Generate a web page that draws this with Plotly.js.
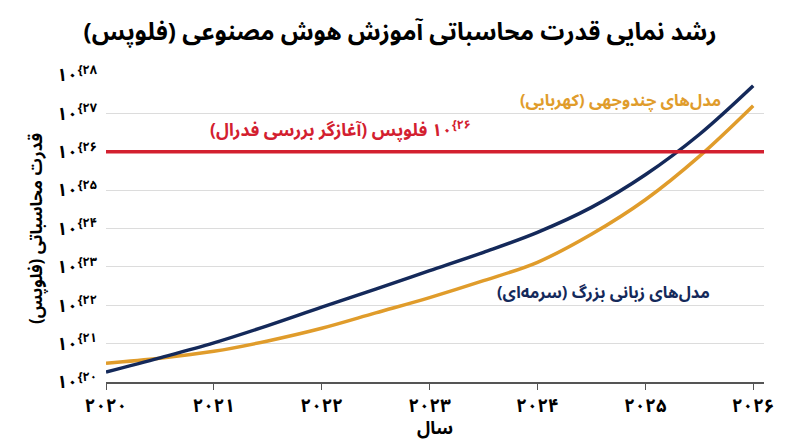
<!DOCTYPE html>
<html>
<head>
<meta charset="utf-8">
<script src="https://cdn.plot.ly/plotly-3.0.1.min.js"></script>
<style>
  html, body { margin: 0; padding: 0; background: #fff; }
  #chart { width: 800px; height: 447px; }
</style>
</head>
<body>
<div id="chart"></div>
<script>
// years (x) and log10 of training compute in FLOPs (y)
const years = [2020, 2020.5, 2021, 2021.5, 2022, 2022.5, 2023, 2023.5, 2024, 2024.5, 2025, 2025.5, 2026];
const llmExp = [20.26, 20.63, 21.02, 21.47, 21.95, 22.42, 22.9, 23.38, 23.9, 24.55, 25.4, 26.45, 27.72];
const multimodalExp = [20.49, 20.62, 20.8, 21.07, 21.4, 21.8, 22.2, 22.64, 23.12, 23.85, 24.75, 25.88, 27.2];
const federalExp = 26;

const xTickVals = [2020, 2021, 2022, 2023, 2024, 2025, 2026];
const xTickText = ['۲۰۲۰', '۲۰۲۱', '۲۰۲۲', '۲۰۲۳', '۲۰۲۴', '۲۰۲۵', '۲۰۲۶'];
const yTickVals = [20, 21, 22, 23, 24, 25, 26, 27, 28];
const yTickSup = ['۲۰', '۲۱', '۲۲', '۲۳', '۲۴', '۲۵', '۲۶', '۲۷', '۲۸'];

const RLM = '\u200F', LRM = '\u200E', RLE = '\u202B', LRE = '\u202A', PDF = '\u202C';
const faFont = 'Noto Sans Arabic, DejaVu Sans, sans-serif';

const navy = '#14295a';
const amber = '#e09c2b';
const red = '#d3202f';

let yTickText = yTickSup.map(s => '۱۰' + LRM + '<sup>{' + LRM + s + '</sup>');

let traces = [
    {
        x: years,
        y: multimodalExp,
        mode: 'lines',
        type: 'scatter',
        line: {color: amber, width: 3.5, shape: 'spline', smoothing: 1},
        hoverinfo: 'skip'
    },
    {
        x: years,
        y: llmExp,
        mode: 'lines',
        type: 'scatter',
        line: {color: navy, width: 3.5, shape: 'spline', smoothing: 1},
        hoverinfo: 'skip'
    }
];

const layout = {
    width: 800,
    height: 447,
    margin: {l: 106, r: 36, t: 75, b: 65},
    paper_bgcolor: '#fff',
    plot_bgcolor: '#fff',
    showlegend: false,
    font: {family: faFont, color: '#000'},
    title: {
        text: 'رشد نمایی قدرت محاسباتی آموزش هوش مصنوعی (فلوپس)' + RLM,
        font: {family: faFont, size: 24, color: '#000', weight: 'bold'},
        x: 0.5, xanchor: 'center', y: 0.93, yanchor: 'middle'
    },
    xaxis: {
        range: [2020, 2026.1],
        tickvals: xTickVals,
        ticktext: xTickText,
        tickfont: {family: faFont, size: 18.5, weight: 'bold', color: '#000'},
        showgrid: false,
        zeroline: false,
        showline: true,
        linecolor: '#555',
        linewidth: 1.5,
        ticks: 'outside',
        ticklen: 6,
        tickcolor: '#555',
        title: {text: 'سال', font: {family: faFont, size: 18, weight: 'bold'}}
    },
    yaxis: {
        range: [20, 28],
        tickvals: yTickVals,
        ticktext: yTickText,
        tickfont: {family: faFont, size: 18, weight: 'bold', color: '#000'},
        showgrid: true,
        gridcolor: '#dcdcdc',
        gridwidth: 1,
        zeroline: false,
        showline: false,
        ticks: '',
        ticklabelstandoff: 8,
        title: {text: 'قدرت محاسباتی (فلوپس)' + RLM, font: {family: faFont, size: 17, weight: 'bold'}, standoff: 10}
    },
    shapes: [
        {
            type: 'line', xref: 'paper', x0: 0, x1: 1,
            yref: 'y', y0: federalExp, y1: federalExp,
            line: {color: red, width: 3.5},
            layer: 'above'
        }
    ],
    annotations: [
        {
            x: 2022.17, y: 26.56, xref: 'x', yref: 'y', showarrow: false,
            text: RLE + LRE + '۱۰' + LRM + '<sup>{' + LRM + '۲۶</sup>' + PDF + ' فلوپس (آغازگر بررسی فدرال)' + RLM + PDF,
            font: {family: faFont, size: 17.5, color: red, weight: 'bold'}
        },
        {
            x: 2024.77, y: 27.34, xref: 'x', yref: 'y', showarrow: false,
            text: 'مدل‌های چندوجهی (کهربایی)' + RLM,
            font: {family: faFont, size: 16.5, color: amber, weight: 'bold'}
        },
        {
            x: 2024.61, y: 22.32, xref: 'x', yref: 'y', showarrow: false,
            text: 'مدل‌های زبانی بزرگ (سرمه‌ای)' + RLM,
            font: {family: faFont, size: 16.5, color: navy, weight: 'bold'}
        }
    ]
};

Plotly.newPlot('chart', traces, layout, {displayModeBar: false, responsive: false});
</script>
</body>
</html>
